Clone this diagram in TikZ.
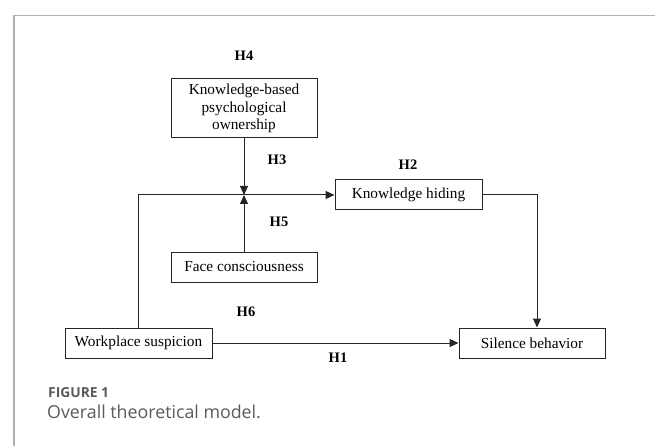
\documentclass[tikz,border=0pt]{standalone}
\usepackage{fontspec}
\setmainfont{Liberation Serif}
\newfontfamily\capfont{Open Sans}
\usetikzlibrary{arrows.meta}
\definecolor{framegray}{HTML}{B0B0B0}
\definecolor{capgray}{HTML}{5A5A5A}
\tikzset{
  box/.style={draw=black!85, line width=1pt, inner sep=0pt, align=center,
    font=\fontsize{15.3}{17.5}\selectfont},
  hlab/.style={font=\fontsize{14.5}{16}\selectfont\bfseries, inner sep=0pt},
  arr/.style={draw=black!85, line width=1pt, -{Triangle[length=9pt,width=8pt]}},
  conn/.style={draw=black!85, line width=1pt}
}
\begin{document}
\begin{tikzpicture}[x=1pt,y=1pt]
\useasboundingbox (0,0) rectangle (655,-446);
% frame
\coordinate (fa) at (14,-446);
\coordinate (fb) at (14,-15.5);
\coordinate (fc) at (655,-15.5);
\draw[framegray, line width=1.2pt] (fa) -- (fb) -- (fc);
% boxes
\node[box, minimum width=146pt, minimum height=59pt] (kbpo) at (244,-108.5) {Knowledge-based\\psychological\\ownership};
\node[box, minimum width=147pt, minimum height=30pt] (kh) at (408.5,-195) {Knowledge hiding};
\node[box, minimum width=146pt, minimum height=30pt] (fcn) at (244,-267) {Face consciousness};
\node[box, minimum width=147pt, minimum height=30pt] (ws) at (138.5,-343) {Workplace suspicion};
\node[box, minimum width=146pt, minimum height=30pt] (sb) at (532,-343) {Silence behavior};
% helper coordinates
\coordinate (j) at (244,-195);
\coordinate (kc) at (537,-195);
\coordinate (wc) at (138.5,-195);
% connectors
\draw[arr] (ws.north) -- (wc) -- (kh.west);
\draw[arr] (kbpo.south) -- (j);
\draw[arr] (fcn.north) -- (j);
\draw[arr] (kh.east) -- (kc) -- (kc |- sb.north);
\draw[arr] (ws.east) -- (sb.west);
% labels
\node[hlab] (h4) at (244,-56) {H4};
\node[hlab] (h3) at (277,-160) {H3};
\node[hlab] (h2) at (408,-165) {H2};
\node[hlab] (h5) at (279,-222) {H5};
\node[hlab] (h6) at (246,-312) {H6};
\node[hlab] (h1) at (338,-358) {H1};
% caption
\node[anchor=west, inner sep=0pt, text=capgray, font=\capfont\bfseries\fontsize{13.8}{16}\selectfont] (fig) at (48,-393) {FIGURE 1};
\node[anchor=west, inner sep=0pt, text=capgray, font=\capfont\fontsize{17.8}{20}\selectfont] (cap) at (47,-412) {Overall theoretical model.};
\end{tikzpicture}
\end{document}
